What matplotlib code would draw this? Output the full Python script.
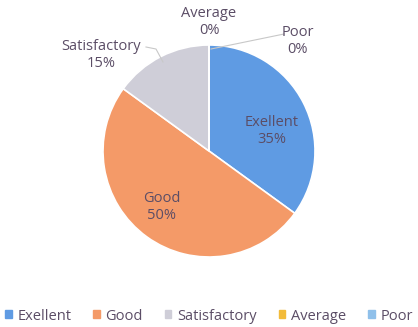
import matplotlib
matplotlib.use("Agg")
import matplotlib.pyplot as plt
from matplotlib.patches import Rectangle

categories = ["Exellent", "Good", "Satisfactory", "Average", "Poor"]
values = [35, 50, 15, 0, 0]
colors = ["#5f9be3", "#f49a68", "#cfced8", "#f2bb3a", "#8fc0ea"]
txt = "#5b4d66"

plt.rcParams['font.family'] = ['Open Sans', 'DejaVu Sans']

W, H = 418, 327
fig = plt.figure(figsize=(W / 100, H / 100), dpi=100)
cx, cy, r = 209, 151, 106
ax = fig.add_axes([(cx - r) / W, (H - cy - r) / H, 2 * r / W, 2 * r / H])
ax.axis('off')

ax.pie(values, colors=colors, startangle=90, counterclock=False, radius=1,
       wedgeprops=dict(edgecolor='white', linewidth=1.2))
ax.set_xlim(-1, 1)
ax.set_ylim(-1, 1)

def d(px, py):
    return ((px - cx) / r, (cy - py) / r)

labels_pos = [(272, 131), (162, 207), (101, 55), (209, 22), (298, 41)]
for name, v, (px, py) in zip(categories, values, labels_pos):
    x, y = d(px, py)
    ax.text(x, y, f"{name}\n{v}%", ha='center', va='center', fontsize=10.5,
            color=txt, linespacing=1.25, clip_on=False)

# leader lines
for pts in ([(146, 47), (156, 49), (163, 62)], [(211, 49), (284, 34)]):
    xs, ys = zip(*[d(*p) for p in pts])
    ax.plot(xs, ys, color="#c8c8c8", lw=0.8, clip_on=False)

# legend
handles = [Rectangle((0, 0), 1, 1, color=c) for c in colors]
fig.legend(handles, categories, loc='center', bbox_to_anchor=(0.5, 1 - 316 / H),
           ncol=5, frameon=False, fontsize=10.5, handlelength=0.45, handleheight=0.45,
           columnspacing=1.5, handletextpad=0.4, labelcolor=txt)

fig.savefig("out.png", dpi=100, facecolor='white')
